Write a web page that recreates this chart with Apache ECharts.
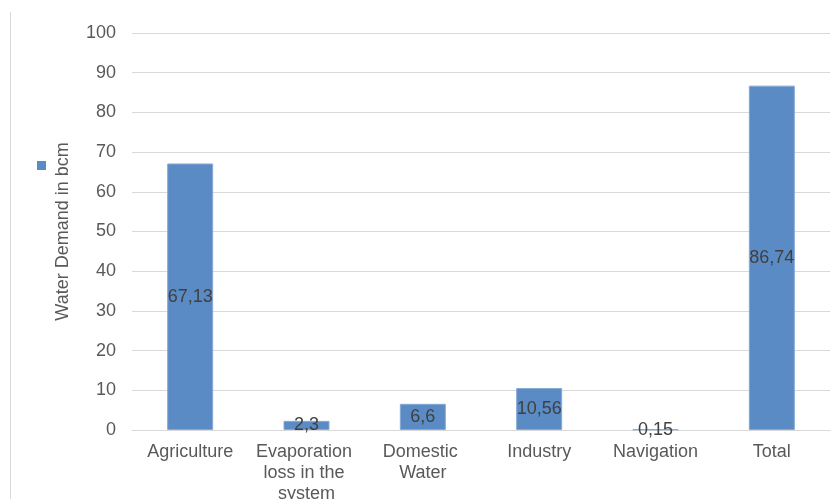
<!DOCTYPE html>
<html>
<head>
<meta charset="utf-8">
<script src="https://cdn.jsdelivr.net/npm/echarts@6/dist/echarts.min.js"></script>
<style>
  html, body { margin: 0; padding: 0; background: #fff; }
  #chart { width: 840px; height: 499px; }
</style>
</head>
<body>
<div id="chart"></div>
<script>
// chart data
var categories = ['Agriculture', 'Evaporation loss in the system', 'Domestic Water', 'Industry', 'Navigation', 'Total']
var demand = [67.13, 2.3, 6.6, 10.56, 0.15, 86.74]
var seriesName = 'Water Demand in bcm'

var chart = echarts.init(document.getElementById('chart'))
var font = 'Liberation Sans, Arial, sans-serif'

chart.setOption({
  animation: false,
  textStyle: { fontFamily: font },
  grid: {
    left: 132,
    right: 10,
    top: 33,
    bottom: 69,
    outerBoundsMode: 'none'
  },
  legend: {
    data: [seriesName],
    left: 37,
    top: 161,
    padding: 0,
    itemWidth: 9,
    itemHeight: 9,
    icon: 'rect',
    itemStyle: { borderWidth: 0 },
    formatter: function() { return '' }
  },
  graphic: [{
    type: 'line',
    shape: { x1: 10.5, y1: 12, x2: 10.5, y2: 499 },
    style: { stroke: '#d9d9d9', lineWidth: 1 }
  }],
  xAxis: {
    type: 'category',
    data: categories,
    axisLine: { lineStyle: { color: '#d9d9d9' } },
    axisTick: { show: false },
    axisLabel: {
      color: '#595959',
      fontSize: 18,
      margin: 12,
      lineHeight: 21,
      width: 112,
      overflow: 'break',
      interval: 0
    }
  },
  yAxis: {
    type: 'value',
    min: 0,
    max: 100,
    interval: 10,
    name: seriesName,
    nameLocation: 'middle',
    nameGap: 60,
    nameTextStyle: { color: '#595959', fontSize: 18 },
    axisLine: { show: false },
    axisTick: { show: false },
    axisLabel: { color: '#595959', fontSize: 18, margin: 16 },
    splitLine: { lineStyle: { color: '#d9d9d9' } }
  },
  series: [{
    name: seriesName,
    type: 'bar',
    data: demand,
    barWidth: 46,
    itemStyle: {
      color: '#5b8bc5',
      borderColor: '#86a9d6',
      borderWidth: 1
    },
    label: {
      show: true,
      position: 'inside',
      color: '#404040',
      fontSize: 18,
      formatter: function(p) {
        return String(p.value).replace('.', ',')
      }
    }
  }]
})
</script>
</body>
</html>
